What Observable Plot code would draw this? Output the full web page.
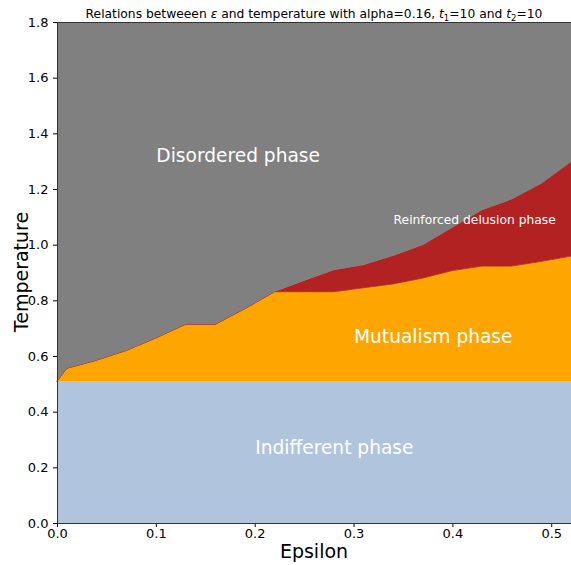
<!DOCTYPE html>
<html>
<head>
<meta charset="utf-8">
<script src="https://cdn.jsdelivr.net/npm/d3@7"></script>
<script src="https://cdn.jsdelivr.net/npm/@observablehq/plot@0.6"></script>
<style>
  html, body { margin: 0; padding: 0; background: #fff; }
  svg { font-family: "DejaVu Sans", sans-serif; }
</style>
</head>
<body>
<div id="chart"></div>
<script>
const epsilon = [0, 0.01, 0.04, 0.07, 0.10, 0.13, 0.16, 0.19, 0.22, 0.25, 0.28, 0.31, 0.34, 0.37, 0.40, 0.43, 0.46, 0.49, 0.52];
const indifferentTop = 0.51;
const mutualismTop = [0.51, 0.556, 0.585, 0.62, 0.665, 0.714, 0.714, 0.77, 0.831, 0.831, 0.831, 0.845, 0.859, 0.88, 0.907, 0.923, 0.923, 0.94, 0.959];
const reinforcedTop = [0.51, 0.556, 0.585, 0.62, 0.665, 0.714, 0.714, 0.77, 0.831, 0.87, 0.909, 0.927, 0.96, 0.999, 1.062, 1.125, 1.163, 1.22, 1.298];
const temperatureMax = 1.8;

const xTicks = [0, 0.1, 0.2, 0.3, 0.4, 0.5];
const yTicks = [0, 0.2, 0.4, 0.6, 0.8, 1.0, 1.2, 1.4, 1.6, 1.8];

const phaseLabels = ["Disordered phase", "Reinforced delusion phase", "Mutualism phase", "Indifferent phase"];
const phaseX = [0.1, 0.34, 0.30, 0.2];
const phaseY = [1.3, 1.08, 0.65, 0.25];
const phaseSize = [18.6, 12.3, 18.6, 18.6];

const rows = epsilon.map((e, i) => ({e, mut: mutualismTop[i], rei: reinforcedTop[i]}));
const labels = phaseLabels.map((t, i) => ({t, x: phaseX[i], y: phaseY[i], s: phaseSize[i]}));

const chart = Plot.plot({
  width: 571,
  height: 565,
  marginLeft: 57,
  marginRight: 0,
  marginTop: 22,
  marginBottom: 42,
  style: {fontFamily: "DejaVu Sans, sans-serif", fontSize: "13px", color: "#000", background: "#fff"},
  x: {domain: [0, 0.52], ticks: xTicks, tickFormat: d3.format(".1f"), label: null, tickSize: 4, tickPadding: 1},
  y: {domain: [0, 1.8], ticks: yTicks, tickFormat: d3.format(".1f"), label: null, tickSize: 4},
  marks: [
    Plot.areaY(rows, {x: "e", y1: 0, y2: indifferentTop, fill: "#b0c4de"}),
    Plot.areaY(rows, {x: "e", y1: indifferentTop, y2: "mut", fill: "#ffa500"}),
    Plot.areaY(rows, {x: "e", y1: "mut", y2: "rei", fill: "#b22222", stroke: "#b22222", strokeWidth: 0.8}),
    Plot.areaY(rows, {x: "e", y1: "rei", y2: temperatureMax, fill: "#808080"}),
    Plot.text(labels.filter(d => d.s > 15), {x: "x", y: "y", text: "t", fill: "white", fontSize: 18.6, textAnchor: "start", lineAnchor: "bottom", dy: 0}),
    Plot.text(labels.filter(d => d.s < 15), {x: "x", y: "y", text: "t", fill: "white", fontSize: 12.3, textAnchor: "start", lineAnchor: "bottom", dy: 1}),
    Plot.frame({stroke: "#333", strokeWidth: 1})
  ]
});

const svg = d3.select(chart);
// Title with subscripts
const title = svg.append("text")
  .attr("x", 314).attr("y", 18)
  .attr("text-anchor", "middle")
  .attr("font-size", 12.3)
  .attr("fill", "#000");
title.append("tspan").text("Relations betweeen ");
title.append("tspan").attr("font-style", "italic").text("ε");
title.append("tspan").text(" and temperature with alpha=0.16, ");
title.append("tspan").attr("font-style", "italic").text("t");
title.append("tspan").attr("font-size", 8.5).attr("dy", 3).text("1");
title.append("tspan").attr("dy", -3).text("=10 and ");
title.append("tspan").attr("font-style", "italic").text("t");
title.append("tspan").attr("font-size", 8.5).attr("dy", 3).text("2");
title.append("tspan").attr("dy", -3).text("=10");

svg.append("text")
  .attr("x", 314).attr("y", 558)
  .attr("text-anchor", "middle")
  .attr("font-size", 19)
  .attr("fill", "#000")
  .text("Epsilon");

svg.append("text")
  .attr("transform", "translate(28,272) rotate(-90)")
  .attr("text-anchor", "middle")
  .attr("font-size", 19)
  .attr("fill", "#000")
  .text("Temperature");

document.getElementById("chart").appendChild(chart);
</script>
</body>
</html>
